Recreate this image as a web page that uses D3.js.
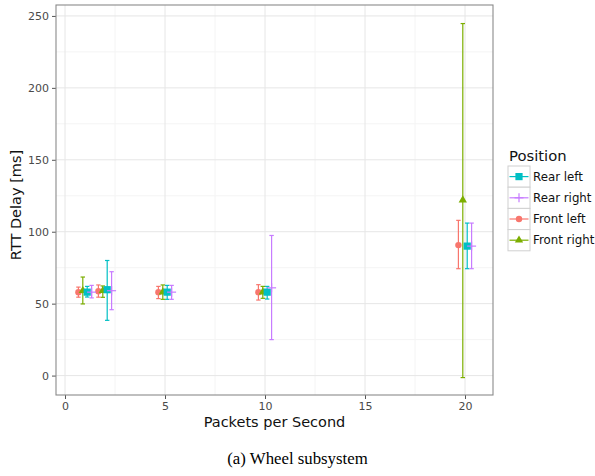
<!DOCTYPE html>
<html>
<head>
<meta charset="utf-8">
<script src="https://cdn.jsdelivr.net/npm/d3@7"></script>
<style>
  html, body { margin: 0; padding: 0; background: #fff; }
  svg { display: block; }
</style>
</head>
<body>
<svg id="chart" width="595" height="476"></svg>
<script>
// ---- Data ----
const packetsPerSecond = [1, 2, 5, 10, 20];
const positions = ["Front left", "Front right", "Rear left", "Rear right"]; // dodge order
const legendOrder = ["Rear left", "Rear right", "Front left", "Front right"];
const colors = ["#F8766D", "#7CAE00", "#00BFC4", "#C77CFF"];
const shapes = ["circle", "triangle", "square", "plus"];

const frontLeftMean = [58, 58.6, 58, 58, 90.7];
const frontLeftLow  = [54.5, 54.5, 53.5, 52.5, 74.3];
const frontLeftHigh = [61.5, 63, 62, 63.2, 107.9];

const frontRightMean = [59, 59, 58, 58, 122];
const frontRightLow  = [49.8, 54.4, 53, 53.7, -1.4];
const frontRightHigh = [68.5, 62.3, 63, 62, 244.7];

const rearLeftMean = [58, 59.7, 58, 58, 90];
const rearLeftLow  = [54.6, 38.4, 53, 53.2, 74.3];
const rearLeftHigh = [62, 80, 62.7, 62, 106];

const rearRightMean = [58, 59, 58, 61, 90];
const rearRightLow  = [54, 45.8, 53, 25, 74.3];
const rearRightHigh = [62.7, 72.2, 62.7, 97.4, 106];

const xTicks = [0, 5, 10, 15, 20];
const yTicks = [0, 50, 100, 150, 200, 250];
const xMinor = [2.5, 7.5, 12.5, 17.5];
const yMinor = [25, 75, 125, 175, 225];

const seriesMeans = [frontLeftMean, frontRightMean, rearLeftMean, rearRightMean];
const seriesLows = [frontLeftLow, frontRightLow, rearLeftLow, rearRightLow];
const seriesHighs = [frontLeftHigh, frontRightHigh, rearLeftHigh, rearRightHigh];

const records = [];
positions.forEach((p, si) => {
  packetsPerSecond.forEach((x, i) => {
    records.push({ pos: p, si, x, mean: seriesMeans[si][i], low: seriesLows[si][i], high: seriesHighs[si][i] });
  });
});

// ---- Layout ----
const panel = { left: 56, right: 493, top: 5, bottom: 395 };
const svg = d3.select("#chart");
const font = "DejaVu Sans, sans-serif";

const x = d3.scaleLinear().domain([-0.45, 21.4]).range([panel.left, panel.right]);
const y = d3.scaleLinear().domain([-13.5, 257.6]).range([panel.bottom, panel.top]);
const dodge = d3.scaleBand().domain(positions).range([-0.44, 0.44]);
const dodgeX = d => x(d.x + dodge(d.pos) + dodge.bandwidth() / 2);

// grid
const g = svg.append("g");
g.append("rect").attr("x", panel.left).attr("y", panel.top)
  .attr("width", panel.right - panel.left).attr("height", panel.bottom - panel.top)
  .attr("fill", "#fff");
g.selectAll(".xminor").data(xMinor).join("line")
  .attr("x1", d => x(d)).attr("x2", d => x(d)).attr("y1", panel.top).attr("y2", panel.bottom)
  .attr("stroke", "#f4f4f4").attr("stroke-width", 1);
g.selectAll(".yminor").data(yMinor).join("line")
  .attr("y1", d => y(d)).attr("y2", d => y(d)).attr("x1", panel.left).attr("x2", panel.right)
  .attr("stroke", "#f4f4f4").attr("stroke-width", 1);
g.selectAll(".xmajor").data(xTicks).join("line")
  .attr("x1", d => x(d)).attr("x2", d => x(d)).attr("y1", panel.top).attr("y2", panel.bottom)
  .attr("stroke", "#e6e6e6").attr("stroke-width", 1);
g.selectAll(".ymajor").data(yTicks).join("line")
  .attr("y1", d => y(d)).attr("y2", d => y(d)).attr("x1", panel.left).attr("x2", panel.right)
  .attr("stroke", "#e6e6e6").attr("stroke-width", 1);

// axes
const xAxis = d3.axisBottom(x).tickValues(xTicks).tickSize(4).tickPadding(3);
const yAxis = d3.axisLeft(y).tickValues(yTicks).tickSize(4).tickPadding(3);
const xg = svg.append("g").attr("transform", `translate(0,${panel.bottom})`).call(xAxis);
const yg = svg.append("g").attr("transform", `translate(${panel.left},0)`).call(yAxis);
[xg, yg].forEach(a => {
  a.select(".domain").remove();
  a.selectAll(".tick line").attr("stroke", "#555").attr("stroke-width", 1);
  a.selectAll(".tick text").attr("fill", "#4a4a4a").attr("font-family", font).attr("font-size", 11);
});

// errorbars
const capHalf = 2.2;
const eb = svg.append("g");
records.forEach(d => {
  const cx = dodgeX(d);
  const c = colors[d.si];
  const grp = eb.append("g").attr("stroke", c).attr("stroke-width", 1.2).attr("fill", "none");
  grp.append("line").attr("x1", cx).attr("x2", cx).attr("y1", y(d.low)).attr("y2", y(d.high));
  grp.append("line").attr("x1", cx - capHalf).attr("x2", cx + capHalf).attr("y1", y(d.low)).attr("y2", y(d.low));
  grp.append("line").attr("x1", cx - capHalf).attr("x2", cx + capHalf).attr("y1", y(d.high)).attr("y2", y(d.high));
});

// points
function drawShape(sel, shape, cx, cy, color) {
  if (shape === "circle") {
    sel.append("circle").attr("cx", cx).attr("cy", cy).attr("r", 3.2).attr("fill", color);
  } else if (shape === "square") {
    sel.append("rect").attr("x", cx - 3.6).attr("y", cy - 3.6).attr("width", 7.2).attr("height", 7.2).attr("fill", color);
  } else if (shape === "triangle") {
    sel.append("path").attr("d", d3.symbol(d3.symbolTriangle, 30)()).attr("transform", `translate(${cx},${cy})`).attr("fill", color);
  } else if (shape === "plus") {
    sel.append("line").attr("x1", cx - 4.5).attr("x2", cx + 4.5).attr("y1", cy).attr("y2", cy).attr("stroke", color).attr("stroke-width", 1.2);
    sel.append("line").attr("x1", cx).attr("x2", cx).attr("y1", cy - 4.5).attr("y2", cy + 4.5).attr("stroke", color).attr("stroke-width", 1.2);
  }
}
const pts = svg.append("g");
records.forEach(d => drawShape(pts, shapes[d.si], dodgeX(d), y(d.mean), colors[d.si]));

// panel border
svg.append("rect").attr("x", panel.left).attr("y", panel.top)
  .attr("width", panel.right - panel.left).attr("height", panel.bottom - panel.top)
  .attr("fill", "none").attr("stroke", "#8a8a8a").attr("stroke-width", 1.1);

// axis titles
svg.append("text").attr("x", (panel.left + panel.right) / 2).attr("y", 427)
  .attr("text-anchor", "middle").attr("font-family", font).attr("font-size", 14.5).attr("fill", "#111")
  .text("Packets per Second");
svg.append("text").attr("transform", `translate(21,${(panel.top + panel.bottom) / 2 + 5}) rotate(-90)`)
  .attr("text-anchor", "middle").attr("font-family", font).attr("font-size", 14.5).attr("fill", "#111")
  .text("RTT Delay [ms]");

// legend
const lg = svg.append("g").attr("transform", "translate(508,0)");
lg.append("text").attr("x", 1).attr("y", 160.5).attr("font-family", font).attr("font-size", 14.8).attr("fill", "#111").text("Position");
const keyH = 21.2, keyW = 22, keyTop = 166;
legendOrder.forEach((name, i) => {
  const si = positions.indexOf(name);
  const ky = keyTop + i * keyH;
  lg.append("rect").attr("x", 0).attr("y", ky).attr("width", keyW).attr("height", keyH)
    .attr("fill", "#fff").attr("stroke", "#d0d0d0").attr("stroke-width", 1);
  lg.append("line").attr("x1", 1.5).attr("x2", keyW - 1.5).attr("y1", ky + keyH / 2).attr("y2", ky + keyH / 2)
    .attr("stroke", colors[si]).attr("stroke-width", 1.2);
  drawShape(lg, shapes[si], keyW / 2, ky + keyH / 2, colors[si]);
  lg.append("text").attr("x", keyW + 3).attr("y", ky + keyH / 2).attr("dy", "0.35em")
    .attr("font-family", font).attr("font-size", 11.8).attr("fill", "#111").text(name);
});

// caption
svg.append("text").attr("x", 297.5).attr("y", 464).attr("text-anchor", "middle")
  .attr("font-family", "Liberation Serif, Times New Roman, serif").attr("font-size", 16.8).attr("fill", "#000")
  .text("(a) Wheel subsystem");
</script>
</body>
</html>
